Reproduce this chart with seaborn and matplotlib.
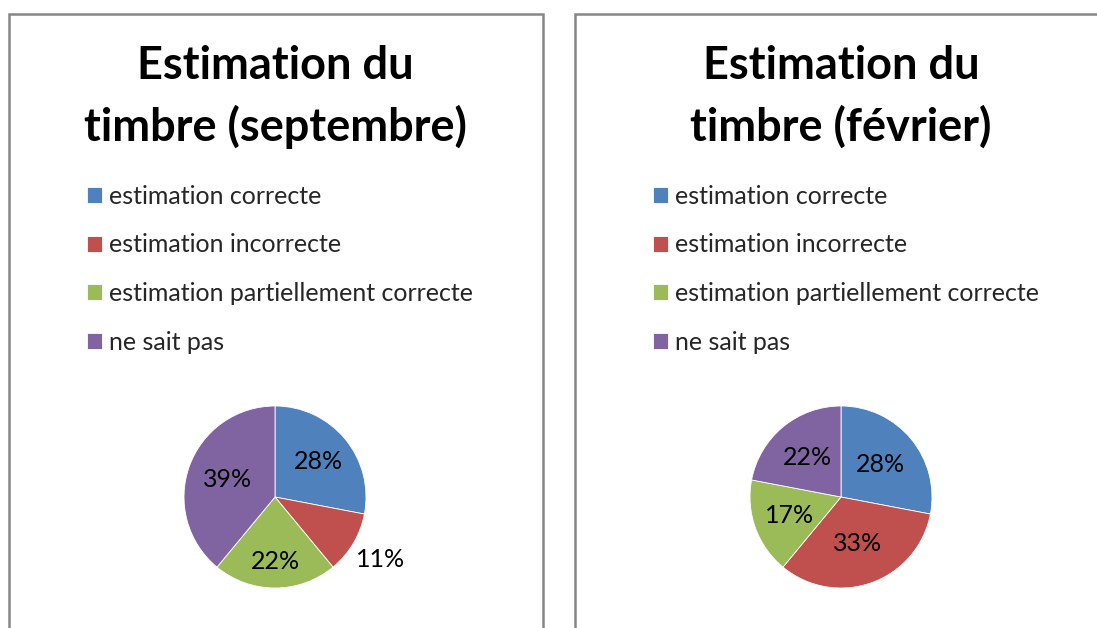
import matplotlib
matplotlib.use("Agg")
import matplotlib.pyplot as plt
import seaborn as sns
import numpy as np
from matplotlib.patches import Rectangle

sns.set_theme(style="white")
plt.rcParams['font.family'] = ['Lato', 'DejaVu Sans']

categories = ["estimation correcte", "estimation incorrecte",
              "estimation partiellement correcte", "ne sait pas"]
sept_values = [28, 11, 22, 39]
fev_values = [28, 33, 17, 22]
title_sept = ["Estimation du", "timbre (septembre)"]
title_fev = ["Estimation du", "timbre (février)"]

colors = ["#4F81BD", "#C0504D", "#9BBB59", "#8064A2"]

W, H = 1097, 628
fig = plt.figure(figsize=(W / 100, H / 100), dpi=100)
fig.patch.set_facecolor("white")


def fx(px):
    return px / W


def fy(py):
    return 1 - py / H


panels = [
    dict(x0=9, x1=543, values=sept_values, title=title_sept,
         dists=[0.62, 1.35, 0.71, 0.56]),
    dict(x0=575, x1=1110, values=fev_values, title=title_fev,
         dists=[0.56, 0.54, 0.6, 0.57]),
]

for p in panels:
    # border
    fig.patches.append(Rectangle((fx(p["x0"]), fy(660)), fx(p["x1"] - p["x0"]),
                                 (660 - 14) / H, transform=fig.transFigure,
                                 fill=False, edgecolor="#878787", linewidth=1.8))
    cx = p["x0"] + 266
    # title
    fig.text(fx(cx), fy(66), p["title"][0], ha="center", va="center",
             fontsize=32.5, fontweight="bold", color="black")
    fig.text(fx(cx), fy(127), p["title"][1], ha="center", va="center",
             fontsize=32.5, fontweight="bold", color="black")

    # pie
    pcx, pcy, r = p["x0"] + 266, 497, 91
    half = 160
    ax = fig.add_axes([fx(pcx - half), fy(pcy + half), 2 * half / W, 2 * half / H])
    wedges, _ = ax.pie(p["values"], colors=colors, startangle=90,
                       counterclock=False, radius=1,
                       wedgeprops=dict(linewidth=0.6, edgecolor="white"))
    ax.set_xlim(-half / r, half / r)
    ax.set_ylim(-half / r, half / r)
    ax.set_aspect("equal")
    ax.axis("off")
    for w, v, d in zip(wedges, p["values"], p["dists"]):
        ang = np.deg2rad((w.theta1 + w.theta2) / 2)
        ax.text(d * np.cos(ang), d * np.sin(ang), f"{v}%", ha="center",
                va="center", fontsize=18, color="black")

    # legend
    ax.legend(wedges, categories, loc="upper left",
              bbox_to_anchor=(fx(p["x0"] + 78), fy(185)),
              bbox_transform=fig.transFigure, frameon=False,
              fontsize=18, handlelength=0.6, handleheight=0.6,
              handletextpad=0.28, labelspacing=1.02, borderpad=0,
              borderaxespad=0)

fig.savefig("out.png", dpi=100, facecolor="white")
